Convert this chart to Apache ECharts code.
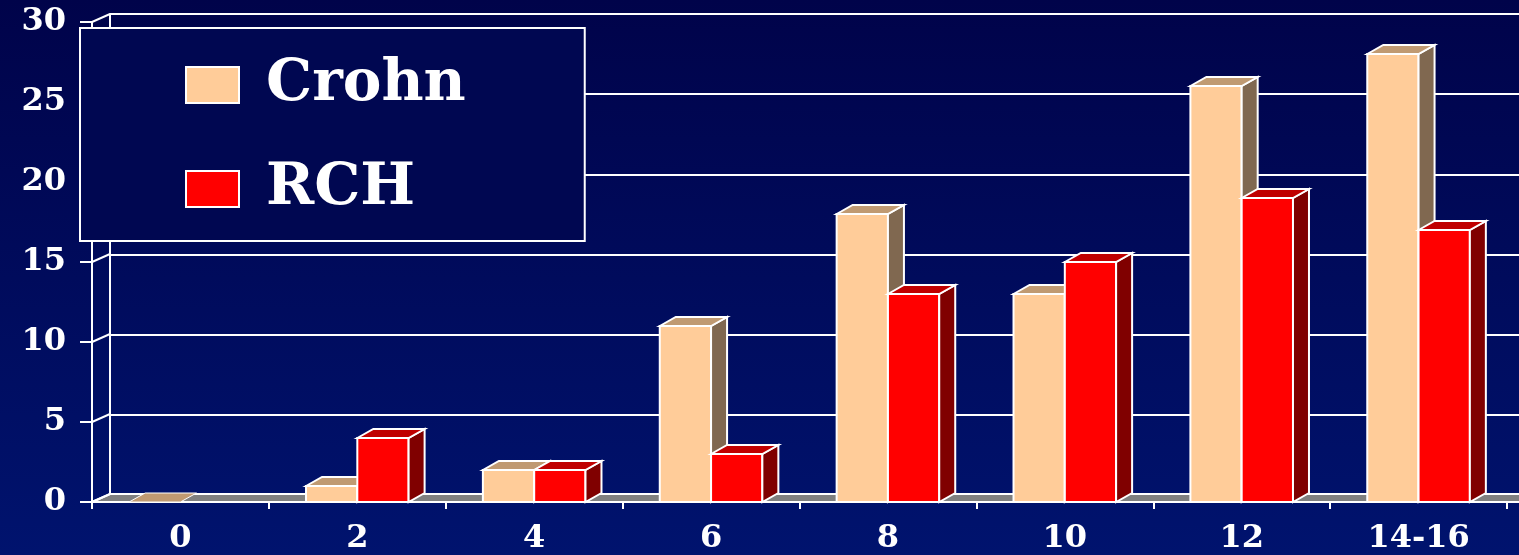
<!DOCTYPE html>
<html>
<head>
<meta charset="utf-8">
<script src="https://cdn.jsdelivr.net/npm/echarts@6/dist/echarts.min.js"></script>
<style>
  html, body { margin: 0; padding: 0; background: #000a5c; }
  #chart { width: 1519px; height: 555px; }
</style>
</head>
<body>
<div id="chart"></div>
<script>
// ---- data ----
const categories = ['0', '2', '4', '6', '8', '10', '12', '14-16'];
const crohn = [0, 1, 2, 11, 18, 13, 26, 28];
const rch = [null, 4, 2, 3, 13, 15, 19, 17];
const yTicks = [0, 5, 10, 15, 20, 25, 30];
const seriesNames = ['Crohn', 'RCH'];

// ---- styles ----
const DX = 18, DY = 8;          // 3D depth offset of walls
const FONT = 'DejaVu Serif';
const faces = [
  { front: '#FFCC99', top: '#C09A72', side: '#806850' },
  { front: '#FF0000', top: '#C00000', side: '#800000' }
];
const edge = { stroke: '#ffffff', lineWidth: 2, lineJoin: 'miter' };

function barRenderer(sideIdx) {
  return function (params, api) {
    const v = api.value(1);
    if (v === null || v === undefined || isNaN(v)) return;
    const idx = api.value(0);
    const top = api.coord([idx, v]);
    const base = api.coord([idx, 0]);
    const band = api.size([1, 0])[0];
    const w = band * 0.29;
    const x0 = sideIdx === 0 ? top[0] - w : top[0];
    const x1 = x0 + w;
    const y1 = top[1], y0 = base[1];
    const dx = 16, dy = 9;
    const f = faces[sideIdx];
    const children = [];
    if (y0 - y1 > 0.5) {
      children.push({ type: 'rect', shape: { x: x0, y: y1, width: w, height: y0 - y1 },
        style: Object.assign({ fill: f.front }, edge) });
      children.push({ type: 'polygon', shape: { points: [[x1, y1], [x1 + dx, y1 - dy], [x1 + dx, y0 - dy], [x1, y0]] },
        style: Object.assign({ fill: f.side }, edge) });
    }
    children.push({ type: 'polygon', shape: { points: [[x0, y1], [x0 + dx, y1 - dy], [x1 + dx, y1 - dy], [x1, y1]] },
      style: Object.assign({ fill: f.top }, edge, y0 - y1 <= 0.5 ? { lineWidth: 1 } : {}) });
    return { type: 'group', children: children };
  };
}

const chart = echarts.init(document.getElementById('chart'), null, { renderer: 'canvas' });

const option = {
  animation: false,
  backgroundColor: {
    type: 'linear', x: 0, y: 0, x2: 0, y2: 1,
    colorStops: [{ offset: 0, color: '#00034a' }, { offset: 1, color: '#00136e' }]
  },
  legend: {
    orient: 'vertical',
    left: 80, top: 28,
    padding: [28, 119, 23, 105],
    itemGap: 46,
    itemWidth: 53, itemHeight: 36,
    icon: 'rect',
    backgroundColor: '#000751',
    borderColor: '#ffffff', borderWidth: 2, borderRadius: 0,
    itemStyle: { borderColor: '#ffffff', borderWidth: 2 },
    textStyle: { color: '#ffffff', fontFamily: FONT, fontWeight: 'bold', fontSize: 58, lineHeight: 56,
      padding: [0, 0, 0, 22] },
    data: seriesNames
  },
  grid: [
    { left: 92, right: 12, top: 22, bottom: 52 },
    { left: 110, right: 0, top: 14, bottom: 60 }
  ],
  xAxis: [
    { type: 'category', gridIndex: 0, data: categories, boundaryGap: true,
      axisLine: { show: true, lineStyle: { color: '#ffffff', width: 2 } },
      axisTick: { show: true, length: 7, lineStyle: { color: '#ffffff', width: 2 } },
      axisLabel: { color: '#ffffff', fontFamily: FONT, fontWeight: 'bold', fontSize: 32, margin: 21 },
      splitLine: { show: false } },
    { type: 'category', gridIndex: 1, data: categories, show: false }
  ],
  yAxis: [
    { type: 'value', gridIndex: 0, min: 0, max: 30, interval: 5,
      axisLine: { show: true, lineStyle: { color: '#ffffff', width: 2 } },
      axisTick: { show: true, length: 12, lineStyle: { color: '#ffffff', width: 2 } },
      axisLabel: { color: '#ffffff', fontFamily: FONT, fontWeight: 'bold', fontSize: 32, margin: 26 },
      splitLine: { show: false } },
    { type: 'value', gridIndex: 1, min: 0, max: 30, interval: 5,
      axisLine: { show: true, lineStyle: { color: '#ffffff', width: 2 } },
      axisTick: { show: false }, axisLabel: { show: false },
      splitLine: { show: true, lineStyle: { color: '#ffffff', width: 2 } } }
  ],
  series: [
    { // floor slab
      type: 'custom', name: 'floor', xAxisIndex: 0, yAxisIndex: 0, silent: true, z: 1,
      data: [[0, 0]],
      renderItem: function (params, api) {
        const cs = params.coordSys;
        const y0 = api.coord([0, 0])[1];
        return { type: 'polygon', shape: { points: [
          [cs.x, y0], [cs.x + DX, y0 - DY], [cs.x + cs.width + DX + 20, y0 - DY], [cs.x + cs.width + 20, y0]] },
          style: { fill: '#808080', stroke: '#ffffff', lineWidth: 2 } };
      }
    },
    { // side-wall connectors from front ticks to back wall
      type: 'custom', name: 'walls', xAxisIndex: 0, yAxisIndex: 0, silent: true, z: 1,
      data: yTicks.map(function (t) { return [0, t]; }),
      renderItem: function (params, api) {
        const cs = params.coordSys;
        const y = api.coord([0, api.value(1)])[1];
        return { type: 'line', shape: { x1: cs.x, y1: y, x2: cs.x + DX, y2: y - DY },
          style: { stroke: '#ffffff', lineWidth: 2 } };
      }
    },
    {
      type: 'custom', name: 'Crohn', xAxisIndex: 0, yAxisIndex: 0, z: 3,
      itemStyle: { color: '#FFCC99' },
      data: crohn.map(function (v, i) { return [i, v === null ? '-' : v]; }),
      renderItem: barRenderer(0)
    },
    {
      type: 'custom', name: 'RCH', xAxisIndex: 0, yAxisIndex: 0, z: 4,
      itemStyle: { color: '#FF0000' },
      data: rch.map(function (v, i) { return [i, v === null ? '-' : v]; }),
      renderItem: barRenderer(1)
    }
  ]
};
chart.setOption(option);
</script>
</body>
</html>
